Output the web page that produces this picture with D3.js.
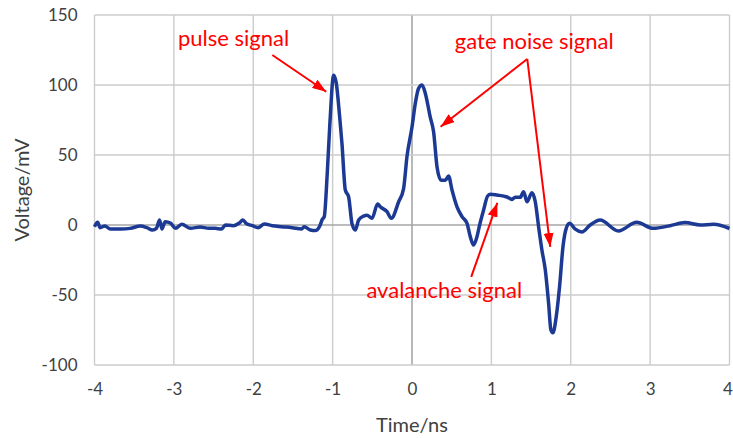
<!DOCTYPE html>
<html>
<head>
<meta charset="utf-8">
<script src="https://cdn.jsdelivr.net/npm/d3@7"></script>
<style>
  html, body { margin: 0; padding: 0; background: #fff; }
  svg { display: block; }
  text { font-family: Lato, "Open Sans", "Noto Sans", sans-serif; }
</style>
</head>
<body>
<svg id="chart" width="733" height="438"></svg>
<script>
// ---- data ----
const timeNs = [-4.00,-3.96,-3.93,-3.87,-3.80,-3.67,-3.55,-3.42,-3.34,-3.27,-3.22,-3.18,-3.15,-3.11,-3.04,-2.98,-2.90,-2.79,-2.67,-2.56,-2.48,-2.40,-2.35,-2.25,-2.18,-2.13,-2.09,-2.01,-1.94,-1.86,-1.76,-1.64,-1.51,-1.39,-1.36,-1.28,-1.22,-1.16,-1.13,-1.105,-1.07,-1.037,-0.987,-0.953,-0.911,-0.882,-0.84,-0.798,-0.756,-0.714,-0.672,-0.609,-0.567,-0.504,-0.433,-0.40,-0.315,-0.26,-0.168,-0.106,-0.063,0,0.042,0.083,0.126,0.168,0.23,0.272,0.315,0.365,0.42,0.461,0.504,0.567,0.63,0.693,0.734,0.776,0.819,0.852,0.902,0.953,0.99,1.07,1.196,1.26,1.30,1.364,1.406,1.448,1.511,1.553,1.595,1.637,1.679,1.721,1.75,1.775,1.817,1.859,1.902,1.943,1.985,2.057,2.14,2.245,2.37,2.60,2.83,3.04,3.25,3.44,3.63,3.80,4.00];
const voltageMv = [-1.2,2.0,-1.9,-0.7,-2.9,-2.9,-2.4,-0.7,-1.9,-3.6,-2.4,3.6,-2.9,2.4,1.2,-2.4,0.5,-2.4,-1.4,-2.4,-2.4,-2.9,0.0,-0.5,1.2,3.6,1.2,-0.5,-1.9,0.7,-0.5,-1.2,-1.9,-2.9,-1.2,-3.6,-4.0,-0.5,4,6,34.5,70,107,101,77,58,25,20,1,-3.6,3.6,6.4,6.9,4.8,15,13,9.5,4.8,16.6,26,49,70,87,97.6,100,94,77,66.6,41.6,32,32,35,25,13,6,1.2,-8.3,-14.3,-8.3,0,10.7,20.7,22,21.4,20,18.3,19.8,19.8,23.8,16.6,23,16.6,-1.2,-18,-32,-56,-75,-77,-65.5,-44,-15.5,-2.4,1.2,-3,-5,0,3.6,-4.3,1.9,-2.4,-0.5,1.7,0,0.5,-2.5];

const xTicks = [-4,-3,-2,-1,0,1,2,3,4];
const yTicks = [-100,-50,0,50,100,150];

const labelTexts = ["pulse signal", "gate noise signal", "avalanche signal"];
const labelT = [-2.249, 1.54, 0.407];
const labelV = [128.2, 125.7, -52.1];

// arrows: from (t, v) to (t, v) in data units
const arrowsFromT = [-1.76, 1.452, 1.452, 0.746];
const arrowsFromV = [121.4, 118.6, 118.6, -37.1];
const arrowsToT   = [-1.08, 0.36, 1.742, 1.075];
const arrowsToV   = [95.2, 70.2, -15.7, 15.8];

// ---- layout ----
const svg = d3.select("#chart");
const plotLeft = 94.5, plotRight = 729.5, plotTop = 15, plotBottom = 365;

const x = d3.scaleLinear().domain([-4, 4]).range([plotLeft, plotRight]);
const y = d3.scaleLinear().domain([-100, 150]).range([plotBottom, plotTop]);

// grid
const g = svg.append("g");
g.selectAll("line.vg").data(xTicks).join("line")
  .attr("class", "vg")
  .attr("x1", d => x(d)).attr("x2", d => x(d))
  .attr("y1", plotTop).attr("y2", plotBottom)
  .attr("stroke", d => d === 0 ? "#9a9a9a" : "#cccccc")
  .attr("stroke-width", 1.4);
g.selectAll("line.hg").data(yTicks).join("line")
  .attr("class", "hg")
  .attr("y1", d => y(d)).attr("y2", d => y(d))
  .attr("x1", plotLeft).attr("x2", plotRight)
  .attr("stroke", d => d === 0 ? "#a6a6a6" : "#cccccc")
  .attr("stroke-width", 1.4);

// axes (labels only)
const fmt = d => String(d);
const xAxis = d3.axisBottom(x).tickValues(xTicks).tickSize(0).tickPadding(0).tickFormat(fmt);
const gx = svg.append("g").attr("transform", `translate(0,${plotBottom + 18})`).call(xAxis);
gx.select(".domain").remove();
gx.selectAll("text").attr("font-size", 17).attr("fill", "#404040")
  .attr("font-family", "Lato, 'Open Sans', sans-serif").attr("dy", "0.71em");
gx.selectAll(".tick").filter(d => d === 4).select("text").attr("dx", -2);

const yAxis = d3.axisLeft(y).tickValues(yTicks).tickSize(0).tickPadding(0).tickFormat(fmt);
const gy = svg.append("g").attr("transform", `translate(${plotLeft - 17},0)`).call(yAxis);
gy.select(".domain").remove();
gy.selectAll("text").attr("font-size", 17).attr("fill", "#404040")
  .attr("font-family", "Lato, 'Open Sans', sans-serif");

// axis titles
svg.append("text").attr("x", x(0)).attr("y", 432)
  .attr("text-anchor", "middle").attr("font-size", 20).attr("fill", "#404040")
  .text("Time/ns");
svg.append("text").attr("transform", `translate(29,${y(25)}) rotate(-90)`)
  .attr("text-anchor", "middle").attr("font-size", 20).attr("fill", "#404040")
  .text("Voltage/mV");

// signal line
const pts = timeNs.map((t, i) => [t, voltageMv[i]]);
const line = d3.line().x(d => x(d[0])).y(d => y(d[1])).curve(d3.curveMonotoneX);
svg.append("path").datum(pts)
  .attr("d", line)
  .attr("fill", "none")
  .attr("stroke", "#1c3a94")
  .attr("stroke-width", 3.5)
  .attr("stroke-linejoin", "round");

// arrows
const red = "#ff0000";
svg.append("defs").append("marker")
  .attr("id", "ah").attr("viewBox", "0 0 14 10")
  .attr("refX", 14).attr("refY", 5)
  .attr("markerWidth", 14).attr("markerHeight", 10)
  .attr("markerUnits", "userSpaceOnUse")
  .attr("orient", "auto")
  .append("path").attr("d", "M0,0 L14,5 L0,10 Z").attr("fill", red);

svg.selectAll("line.arrow").data(arrowsFromT).join("line")
  .attr("class", "arrow")
  .attr("x1", (d, i) => x(arrowsFromT[i])).attr("y1", (d, i) => y(arrowsFromV[i]))
  .attr("x2", (d, i) => x(arrowsToT[i])).attr("y2", (d, i) => y(arrowsToV[i]))
  .attr("stroke", red).attr("stroke-width", 2)
  .attr("marker-end", "url(#ah)");

// labels
svg.selectAll("text.ann").data(labelTexts).join("text")
  .attr("class", "ann")
  .attr("x", (d, i) => x(labelT[i])).attr("y", (d, i) => y(labelV[i]))
  .attr("text-anchor", "middle")
  .attr("font-size", 22)
  .attr("fill", red)
  .text(d => d);
</script>
</body>
</html>
